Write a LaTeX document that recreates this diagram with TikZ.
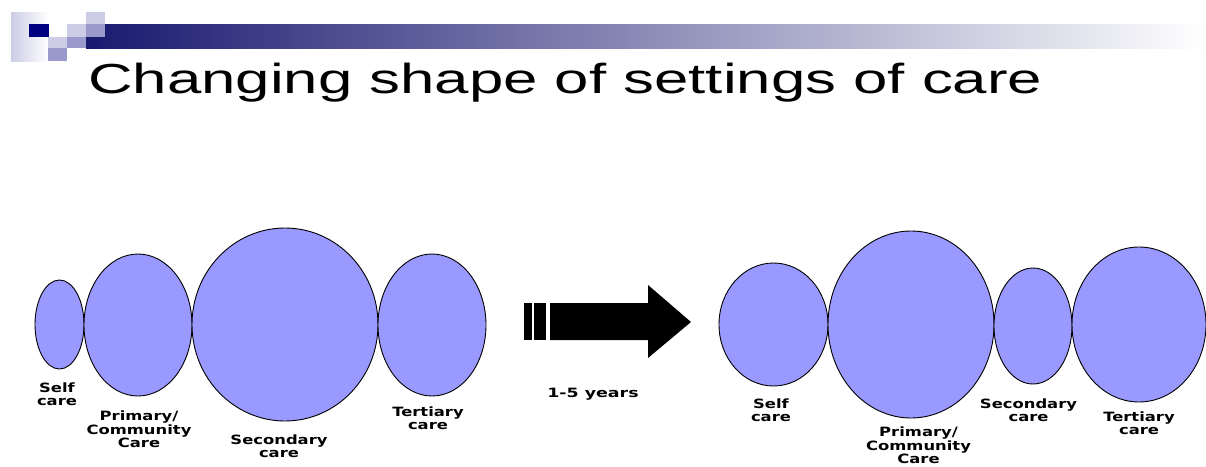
\documentclass[tikz,border=0pt]{standalone}
\usepackage{fontspec}
\usepackage{graphicx}
\usetikzlibrary{shapes.geometric}
\newfontfamily\titlefont{Liberation Sans}
\newfontfamily\labfont{DejaVu Sans}
\definecolor{blobfill}{RGB}{153,153,255}
\definecolor{lightsq}{RGB}{204,204,230}
\definecolor{medsq}{RGB}{153,153,204}
\definecolor{navysq}{RGB}{0,0,128}
\definecolor{barleft}{RGB}{25,25,112}
\definecolor{barmid}{RGB}{175,175,200}
\newcommand\lbl[2][1.28]{\scalebox{#1}[1]{\fontsize{12.8}{12.6}\selectfont\begin{tabular}{@{}c@{}}#2\end{tabular}}}
\begin{document}
\begin{tikzpicture}[x=1pt,y=-1pt,
  blob/.style={ellipse, draw=black, line width=0.9pt, fill=blobfill, inner sep=0pt},
  lab/.style={anchor=north, inner sep=0pt, font=\labfont\bfseries},
  arrowpart/.style={fill=black, draw=none}]
\useasboundingbox (0,0) rectangle (1206,466);
% header decoration
\shade[left color=lightsq, right color=white] (11,12) rectangle (48,61);
\fill[navysq] (29,24) rectangle (49,37);
\fill[lightsq] (48,37) rectangle (67,48);
\fill[medsq] (48,48) rectangle (67,61);
\fill[lightsq] (67,24) rectangle (86,37);
\fill[medsq] (67,37) rectangle (86,48);
\shade[left color=barleft, middle color=barmid, right color=white] (86,24) rectangle (1206,48);
\fill[lightsq] (86,12) rectangle (105,24);
\fill[medsq] (86,24) rectangle (105,37);
% title
\node[anchor=base west, inner sep=0pt] (title) at (88,93)
  {\scalebox{1.47}[1]{\fontsize{42}{42}\selectfont\titlefont Changing shape of settings of care}};
% left group
\node[blob, minimum width=49, minimum height=89] (ls) at (59.5,324.5) {};
\node[blob, minimum width=108, minimum height=142] (lp) at (138,325) {};
\node[blob, minimum width=186, minimum height=193] (lsec) at (285,324.5) {};
\node[blob, minimum width=108, minimum height=142] (lt) at (432,325) {};
\node[lab] (lsl) at (57,383) {\lbl{Self\\care}};
\node[lab] (lpl) at (139,411) {\lbl{Primary/\\Community\\Care}};
\node[lab] (lsecl) at (279,435) {\lbl{Secondary\\care}};
\node[lab] (ltl) at (428,407) {\lbl{Tertiary\\care}};
% arrow
\fill[arrowpart] (524,303) rectangle (532,340);
\fill[arrowpart] (534,303) rectangle (546,340);
\fill[arrowpart] (550,303) -- (648,303) -- (648,285) -- (691,322) -- (648,358) -- (648,340) -- (550,340) -- cycle;
\node[lab] (years) at (593,388) {\lbl[1.36]{1-5 years}};
% right group
\node[blob, minimum width=109, minimum height=123] (rs) at (773.5,324.5) {};
\node[blob, minimum width=166, minimum height=187] (rp) at (911,324.5) {};
\node[blob, minimum width=78, minimum height=116] (rsec) at (1033,326) {};
\node[blob, minimum width=134, minimum height=155] (rt) at (1139,324.5) {};
\node[lab] (rsl) at (771,399) {\lbl{Self\\care}};
\node[lab] (rpl) at (918.5,427) {\lbl{Primary/\\Community\\Care}};
\node[lab] (rsecl) at (1028.5,399) {\lbl{Secondary\\care}};
\node[lab] (rtl) at (1139,412) {\lbl{Tertiary\\care}};
\end{tikzpicture}
\end{document}
